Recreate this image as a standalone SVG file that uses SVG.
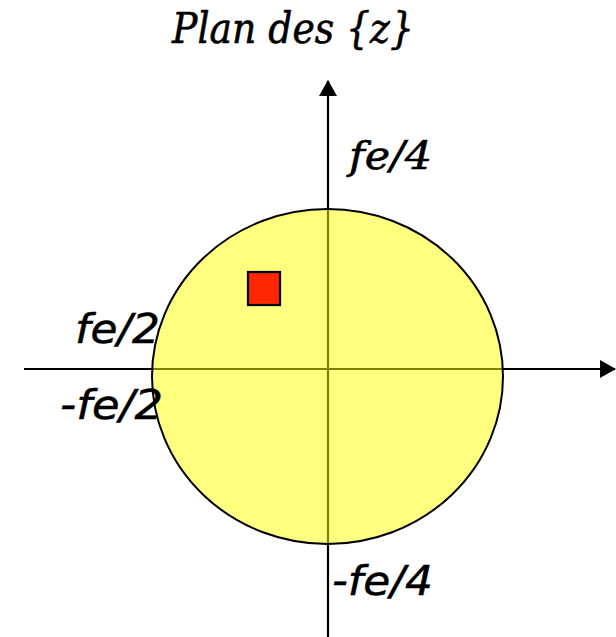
<svg xmlns="http://www.w3.org/2000/svg" width="616" height="637" viewBox="0 0 616 637">
<style>
.serif{font-family:"DejaVu Serif","Liberation Serif",serif;font-style:italic;fill:#000;stroke:#000;stroke-width:0.6}
.sans{font-family:"DejaVu Sans","Liberation Sans",sans-serif;font-style:italic;fill:#000;stroke:#000;stroke-width:0.5}
.axis{stroke:#000;stroke-width:2.2;fill:none}
</style>
<defs>
<marker id="arr" markerWidth="16" markerHeight="18" refX="15" refY="9" orient="auto" markerUnits="userSpaceOnUse">
<path d="M0,0 L16,9 L0,18 Z" fill="#000"/>
</marker>
</defs>
<rect width="616" height="637" fill="#fff"/>
<g id="connectors">
<line class="axis" x1="24" y1="369" x2="615" y2="369" marker-end="url(#arr)"/>
<line class="axis" x1="328" y1="637" x2="328" y2="81" marker-end="url(#arr)"/>
</g>
<g id="disc">
<ellipse cx="327.5" cy="376.5" rx="175.5" ry="167.5" fill="#ffff00" fill-opacity="0.5" stroke="#000" stroke-width="2"/>
</g>
<g id="pole">
<rect x="248" y="272" width="32" height="33" fill="#ff2600" stroke="#000" stroke-width="2.2"/>
</g>
<g id="labels">
<text class="serif" x="172" y="43" font-size="42" textLength="242" lengthAdjust="spacingAndGlyphs">Plan des {z}</text>
<text class="serif" x="349" y="169" font-size="40" textLength="83" lengthAdjust="spacingAndGlyphs">fe/4</text>
<text class="sans" x="75" y="343" font-size="40" textLength="85" lengthAdjust="spacingAndGlyphs">fe/2</text>
<text class="sans" x="60" y="419" font-size="40" textLength="103" lengthAdjust="spacingAndGlyphs">-fe/2</text>
<text class="sans" x="332" y="595" font-size="40" textLength="101" lengthAdjust="spacingAndGlyphs">-fe/4</text>
</g>
</svg>
